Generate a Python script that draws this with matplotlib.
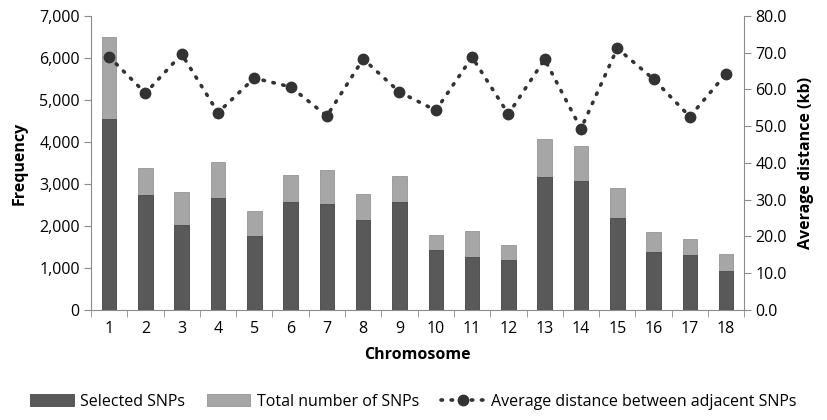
import numpy as np
import matplotlib.pyplot as plt
from matplotlib.ticker import FuncFormatter, FixedLocator

plt.rcParams['font.family'] = ['Open Sans', 'DejaVu Sans']

chromosomes = list(range(1, 19))
total_snps = [6500, 3370, 2800, 3530, 2360, 3210, 3340, 2770, 3190, 1780,
              1880, 1550, 4080, 3905, 2900, 1865, 1700, 1325]
selected_snps = [4550, 2730, 2025, 2660, 1755, 2570, 2525, 2150, 2570, 1420,
                 1260, 1185, 3175, 3080, 2200, 1375, 1300, 930]
avg_distance = [68.9, 59.0, 69.6, 53.7, 63.1, 60.7, 52.8, 68.3, 59.3, 54.3,
                68.8, 53.3, 68.2, 49.3, 71.2, 62.8, 52.6, 64.3]

dark = '#595959'
light = '#a6a6a6'
axis_col = '#8c8c8c'

fig = plt.figure(figsize=(8.27, 4.2), dpi=100)
ax = fig.add_axes([0.110, 0.262, 0.790, 0.700])
x = np.array(chromosomes)

b1 = ax.bar(x, total_snps, width=0.4, color=light, edgecolor='#959595', linewidth=0.6, zorder=2)
b2 = ax.bar(x, selected_snps, width=0.4, color=dark, edgecolor='#4a4a4a', linewidth=0.6, zorder=3)

ax.set_xlim(0.5, 18.5)
ax.set_ylim(0, 7000)
ax.set_yticks(range(0, 7001, 1000))
ax.yaxis.set_major_formatter(FuncFormatter(lambda v, p: f'{int(v):,}'))
ax.set_xticks(x)
ax.set_xticklabels([str(c) for c in chromosomes])
ax.xaxis.set_minor_locator(FixedLocator(np.arange(0.5, 18.6, 1)))
ax.tick_params(axis='x', which='major', length=0, pad=8, labelsize=11.5)
ax.tick_params(axis='x', which='minor', length=5, color=axis_col, direction='out')
ax.tick_params(axis='y', length=5, color=axis_col, labelsize=11.5, pad=3)

for s in ['top', 'right']:
    ax.spines[s].set_visible(False)
for s in ['left', 'bottom']:
    ax.spines[s].set_color(axis_col)

ax.set_ylabel('Frequency', fontsize=11.5, fontweight='bold', labelpad=8)
ax.set_xlabel('Chromosome', fontsize=11.5, fontweight='bold', labelpad=7)

ax2 = ax.twinx()
ln, = ax2.plot(x, avg_distance, color='#333333', linestyle=(0, (0.4, 2.4)), linewidth=2.6,
               dash_capstyle='round', marker='o', markersize=7.5, zorder=4)
ax2.set_ylim(0, 80)
ax2.set_yticks(range(0, 81, 10))
ax2.yaxis.set_major_formatter(FuncFormatter(lambda v, p: f'{v:.1f}'))
ax2.tick_params(axis='y', length=5, color=axis_col, labelsize=11.5, pad=3)
for s in ['top', 'left', 'bottom']:
    ax2.spines[s].set_visible(False)
ax2.spines['right'].set_color(axis_col)
ax2.set_ylabel('Average distance (kb)', fontsize=11.5, fontweight='bold', labelpad=8)

fig.legend([b2, b1, ln],
           ['Selected SNPs', 'Total number of SNPs', 'Average distance between adjacent SNPs'],
           loc='lower center', bbox_to_anchor=(0.5, -0.01), ncol=3, frameon=False,
           fontsize=11.5, handlelength=2.7, handleheight=0.8, columnspacing=1.4, handletextpad=0.4)

fig.savefig('out.png', dpi=100)
